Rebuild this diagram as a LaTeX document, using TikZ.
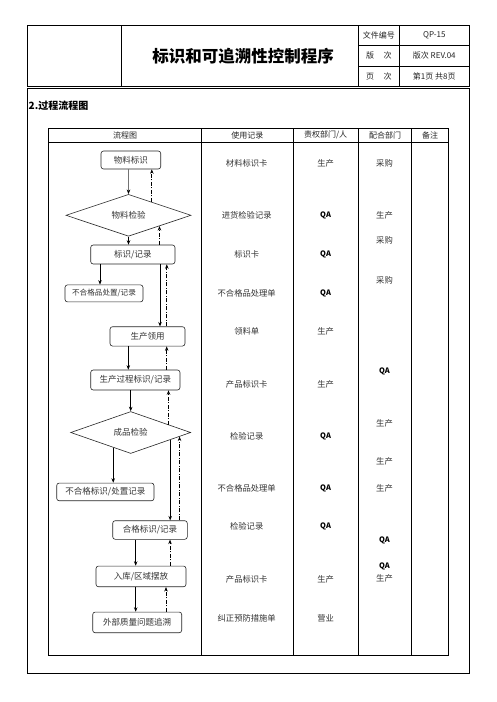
\documentclass[tikz,border=0pt]{standalone}
\usepackage{fontspec}
\setmainfont{Noto Sans CJK SC}
\usetikzlibrary{shapes.geometric,arrows.meta,calc}
\begin{document}
\begin{tikzpicture}[x=1pt,y=-1pt,
  frame/.style={draw=black,line width=0.9pt},
  txt/.style={inner sep=0pt,text=black!80,font=\fontsize{8.3}{9}\selectfont},
  small/.style={inner sep=0pt,text=black!85,font=\fontsize{8}{9}\selectfont},
  qa/.style={inner sep=0pt,text=black,font=\fontsize{7.5}{9}\selectfont\bfseries},
  fbox/.style={draw=black!85,line width=0.6pt,rounded corners=2.5pt,inner sep=0pt,text=black!80,font=\fontsize{8.5}{9}\selectfont},
  fdia/.style={draw=black!85,line width=0.6pt,diamond,inner sep=0pt,text=black!80,font=\fontsize{8.5}{9}\selectfont},
  sarr/.style={draw=black,line width=0.7pt,-{Stealth[length=4.5pt,width=3.5pt]}},
  garr/.style={draw=black!55,line width=0.9pt,-{Stealth[length=4.5pt,width=3.5pt,black]}},
  darr/.style={draw=black,line width=0.7pt,dash pattern=on 4pt off 1.5pt on 1pt off 1.5pt,-{Stealth[length=4.5pt,width=3.5pt]}}]
\useasboundingbox (0,0) rectangle (496,702);
\fill[white] (0,0) rectangle (496,702);

% header block
\draw[frame] (27.3,25.7) rectangle (469.3,86);
\draw[frame] (121.7,25.7) -- (121.7,86);
\draw[frame] (358.3,25.7) -- (358.3,86);
\draw[frame] (399.3,25.7) -- (399.3,86);
\draw[frame] (358.3,45.8) -- (469.3,45.8);
\draw[frame] (358.3,66) -- (469.3,66);
\node[inner sep=0pt,font=\fontsize{16.5}{18}\selectfont\bfseries] (title) at (243,56.5) {标识和可追溯性控制程序};
\node[small] (h1) at (378.8,35.7) {文件编号};
\node[small] (h2) at (378.8,55.9) {版\hspace{1.2em}次};
\node[small] (h3) at (378.8,76) {页\hspace{1.2em}次};
\node[small] (h4) at (434.3,35.7) {QP-15};
\node[small] (h5) at (434.3,55.9) {版次 REV.04};
\node[small] (h6) at (434.3,76) {第1页 共8页};

% content frame
\draw[frame] (27.3,88.5) rectangle (469.3,673.3);
\node[inner sep=0pt,anchor=west,font=\fontsize{10}{12}\selectfont\bfseries] (sec) at (28.5,105.7) {2.过程流程图};

% table
\draw[frame] (48.3,128) rectangle (448.3,655.7);
\draw[frame] (48.3,142.5) -- (448.3,142.5);
\foreach \xx in {201.7,293,358.3,411.7} \draw[frame] (\xx,128) -- (\xx,655.7);
\node[small] (c1) at (125,135.3) {流程图};
\node[small] (c2) at (247.4,135.3) {使用记录};
\node[small] (c3) at (325.6,135.3) {责权部门/人};
\node[small] (c4) at (385,135.3) {配合部门};
\node[small] (c5) at (430,135.3) {备注};

% column: records
\node[txt] (r1) at (246.7,163.3) {材料标识卡};
\node[txt] (r2) at (246.7,215) {进货检验记录};
\node[txt] (r3) at (246.7,254.3) {标识卡};
\node[txt] (r4) at (246.7,293.3) {不合格品处理单};
\node[txt] (r5) at (246.7,331.7) {领料单};
\node[txt] (r6) at (246.7,384.3) {产品标识卡};
\node[txt] (r7) at (246.7,436.7) {检验记录};
\node[txt] (r8) at (246.7,488.3) {不合格品处理单};
\node[txt] (r9) at (246.7,526.7) {检验记录};
\node[txt] (r10) at (246.7,579.3) {产品标识卡};
\node[txt] (r11) at (246.7,618.3) {纠正预防措施单};

% column: responsible
\node[txt] (p1) at (325.6,163.3) {生产};
\node[qa] (p2) at (325.6,215) {QA};
\node[qa] (p3) at (325.6,254.3) {QA};
\node[qa] (p4) at (325.6,293.3) {QA};
\node[txt] (p5) at (325.6,331.7) {生产};
\node[txt] (p6) at (325.6,384.3) {生产};
\node[qa] (p7) at (325.6,436.7) {QA};
\node[qa] (p8) at (325.6,488.3) {QA};
\node[qa] (p9) at (325.6,526.7) {QA};
\node[txt] (p10) at (325.6,579.3) {生产};
\node[txt] (p11) at (325.6,618.3) {营业};

% column: cooperating
\node[txt] (q1) at (384.5,163.3) {采购};
\node[txt] (q2) at (384.5,215) {生产};
\node[txt] (q3) at (384.5,240.7) {采购};
\node[txt] (q4) at (384.5,280) {采购};
\node[qa] (q5) at (384.5,371) {QA};
\node[txt] (q6) at (384.5,423.3) {生产};
\node[txt] (q7) at (384.5,461.7) {生产};
\node[txt] (q8) at (384.5,488.3) {生产};
\node[qa] (q9) at (384.5,540.7) {QA};
\node[qa] (q10) at (384.5,566) {QA};
\node[txt] (q11) at (384.5,578.3) {生产};

% flowchart nodes
\node[fbox,minimum width=59.7pt,minimum height=18pt] (n1) at (130.85,160) {物料标识};
\node[fdia,minimum width=125pt,minimum height=31pt] (d1) at (128.5,215.3) {物料检验};
\node[fbox,minimum width=84.3pt,minimum height=19pt] (n2) at (132.85,254.5) {标识/记录};
\node[fbox,minimum width=78pt,minimum height=17pt,font=\fontsize{7.6}{9}\selectfont] (n3) at (104,293.4) {不合格品处置/记录};
\node[fbox,minimum width=75pt,minimum height=19.3pt] (n4) at (147.5,336.4) {生产领用};
\node[fbox,minimum width=89.3pt,minimum height=20pt] (n5) at (135.35,380) {生产过程标识/记录};
\node[fdia,minimum width=120pt,minimum height=31.6pt] (d2) at (130.7,432.5) {成品检验};
\node[fbox,minimum width=97.3pt,minimum height=17.7pt] (n6) at (105.35,491.9) {不合格标识/处置记录};
\node[fbox,minimum width=74.6pt,minimum height=18.6pt] (n7) at (150,530) {合格标识/记录};
\node[fbox,minimum width=90pt,minimum height=20.7pt] (n8) at (141,576.4) {入库/区域摆放};
\node[fbox,minimum width=89pt,minimum height=20.7pt] (n9) at (137.2,622.4) {外部质量问题追溯};

% points on diamond borders
\coordinate (d1a) at ($(d1.north)!0.371!(d1.east)$);
\coordinate (d1b) at ($(d1.south)!0.493!(d1.east)$);
\coordinate (d2a) at ($(d2.north)!0.627!(d2.east)$);
\coordinate (d2b) at ($(d2.south)!0.29!(d2.west)$);
\coordinate (d2c) at ($(d2.south)!0.655!(d2.east)$);
\coordinate (d2d) at ($(d2.south)!0.81!(d2.east)$);

% connectors
\draw[garr] (n1.south -| d1.north) -- (d1.north);
\draw[darr] (d1a) -- (n1.south -| d1a);
\draw[sarr] (d1.south) -- (n2.north -| d1.south);
\draw[darr] (n2.north -| d1b) -- (d1b);
\draw[sarr] (n2.south -| 100,0) -- (n3.north -| 100,0);
\draw[sarr] (n2.south -| 160,0) -- (n4.north -| 160,0);
\draw[darr] (n4.north -| 166.8,0) -- (n2.south -| 166.8,0);
\draw[sarr] (n4.south -| 128.3,0) -- (n5.north -| 128.3,0);
\draw[darr] (n5.north -| 166.7,0) -- (n4.south -| 166.7,0);
\draw[sarr] (n5.south -| d2.north) -- (d2.north);
\draw[darr] (d2a) -- (n5.south -| d2a);
\draw[sarr] (d2b) -- (n6.north -| d2b);
\draw[sarr] (d2c) -- (n7.north -| d2c);
\draw[darr] (n7.north -| d2d) -- (d2d);
\draw[sarr] (n7.south -| 135.7,0) -- (n8.north -| 135.7,0);
\draw[darr] (n8.north -| 170,0) -- (n7.south -| 170,0);
\draw[sarr] (n8.south -| 135.7,0) -- (n9.north -| 135.7,0);
\draw[darr] (n9.north -| 166,0) -- (n8.south -| 166,0);
\end{tikzpicture}
\end{document}
